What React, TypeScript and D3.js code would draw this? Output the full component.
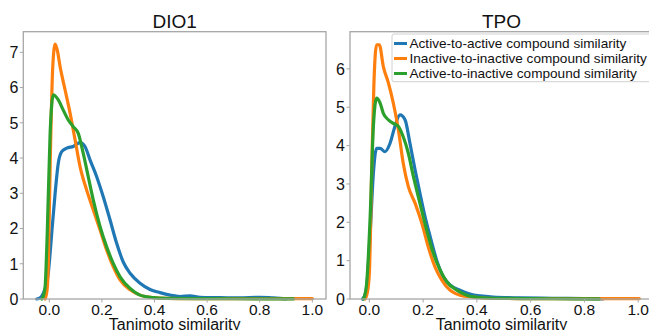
import React from 'react';
import * as d3 from 'd3';

type Pt = [number, number];

const seriesNames = [
  'Active-to-active compound similarity',
  'Inactive-to-inactive compound similarity',
  'Active-to-inactive compound similarity',
];
const seriesColors = ['#1f77b4', '#ff7f0e', '#2ca02c'];
const xTicks = [0, 0.2, 0.4, 0.6, 0.8, 1.0];
const dio1YTicks = [0, 1, 2, 3, 4, 5, 6, 7];
const tpoYTicks = [0, 1, 2, 3, 4, 5, 6];

// DIO1 density curves
const dio1Active: Pt[] = [
  [-0.048, 0], [-0.035, 0.03], [-0.023, 0.16], [-0.012, 0.4], [-0.004, 0.73], [0.003, 1.3],
  [0.009, 1.86], [0.022, 3.0], [0.034, 3.85], [0.047, 4.18], [0.066, 4.28], [0.091, 4.33],
  [0.117, 4.44], [0.136, 4.32], [0.155, 3.94], [0.18, 3.47], [0.205, 2.9], [0.231, 2.24],
  [0.256, 1.58], [0.281, 1.05], [0.307, 0.73], [0.345, 0.45], [0.383, 0.27], [0.421, 0.18],
  [0.459, 0.11], [0.497, 0.07], [0.535, 0.09], [0.573, 0.05], [0.65, 0.04], [0.72, 0.03],
  [0.8, 0.05], [0.85, 0.03], [0.9, 0.005],
];
const dio1Inactive: Pt[] = [
  [-0.016, 0], [-0.008, 0.3], [-0.004, 0.92], [0.003, 3.75], [0.013, 6.59], [0.022, 7.23],
  [0.03, 7.07], [0.041, 6.59], [0.06, 5.93], [0.079, 5.27], [0.098, 4.51], [0.117, 3.75],
  [0.142, 3.09], [0.167, 2.53], [0.193, 1.96], [0.218, 1.39], [0.243, 0.92], [0.269, 0.54],
  [0.307, 0.26], [0.345, 0.11], [0.395, 0.04], [0.446, 0.02], [0.55, 0.012], [0.7, 0.01],
  [0.85, 0.01], [1.0, 0.01],
];
const dio1Cross: Pt[] = [
  [-0.029, 0], [-0.022, 0.1], [-0.016, 0.35], [-0.008, 1.86], [0.003, 4.7], [0.015, 5.79],
  [0.034, 5.65], [0.053, 5.36], [0.072, 5.08], [0.091, 4.89], [0.11, 4.7], [0.129, 4.13],
  [0.148, 3.47], [0.167, 2.81], [0.193, 2.05], [0.218, 1.48], [0.243, 1.01], [0.269, 0.63],
  [0.307, 0.3], [0.345, 0.11], [0.395, 0.04], [0.446, 0.02], [0.6, 0.01], [0.8, 0.005],
  [0.928, 0.003],
];

// TPO density curves
const tpoActive: Pt[] = [
  [-0.025, 0], [-0.018, 0.08], [-0.01, 0.32], [0.003, 1.71], [0.015, 3.28], [0.027, 3.93],
  [0.04, 3.93], [0.058, 3.84], [0.077, 4.06], [0.095, 4.5], [0.114, 4.8], [0.133, 4.67],
  [0.151, 4.06], [0.17, 3.37], [0.188, 2.76], [0.207, 2.15], [0.226, 1.63], [0.25, 1.02],
  [0.275, 0.58], [0.3, 0.37], [0.337, 0.23], [0.374, 0.13], [0.412, 0.08], [0.46, 0.05],
  [0.56, 0.03], [0.68, 0.02], [0.8, 0.01], [0.87, 0.005],
];
const tpoInactive: Pt[] = [
  [-0.016, 0], [-0.008, 0.15], [0.0, 0.67], [0.009, 3.45], [0.017, 5.63], [0.027, 6.63],
  [0.037, 6.63], [0.052, 6.06], [0.071, 5.63], [0.089, 5.11], [0.108, 4.41], [0.126, 3.54],
  [0.145, 2.93], [0.17, 2.5], [0.195, 1.98], [0.219, 1.36], [0.244, 0.84], [0.269, 0.5],
  [0.3, 0.23], [0.337, 0.1], [0.387, 0.05], [0.43, 0.02], [0.55, 0.012], [0.7, 0.01],
  [0.85, 0.01], [1.004, 0.01],
];
const tpoCross: Pt[] = [
  [-0.022, 0], [-0.016, 0.12], [-0.01, 0.41], [0.003, 2.15], [0.015, 4.5], [0.027, 5.24],
  [0.04, 5.11], [0.052, 4.84], [0.071, 4.67], [0.089, 4.58], [0.108, 4.5], [0.126, 4.23],
  [0.145, 3.8], [0.164, 3.19], [0.188, 2.5], [0.213, 1.8], [0.238, 1.19], [0.263, 0.76],
  [0.288, 0.45], [0.325, 0.23], [0.362, 0.1], [0.41, 0.04], [0.46, 0.02], [0.6, 0.01],
  [0.75, 0.005], [0.855, 0.003],
];

const FONT = '"Liberation Sans", Arial, sans-serif';
const AXIS_COLOR = '#a6a6a6';
const TEXT_COLOR = '#111';
const TOP = 31.7;
const BOTTOM = 299;

interface PanelProps {
  title: string;
  series: Pt[][];
  yTicks: number[];
  left: number;
  right: number;
  xDomain: [number, number];
  yMax: number;
  legend?: boolean;
}

const Panel: React.FC<PanelProps> = ({ title, series, yTicks, left, right, xDomain, yMax, legend }) => {
  const x = d3.scaleLinear().domain(xDomain).range([left, right]);
  const y = d3.scaleLinear().domain([0, yMax]).range([BOTTOM, TOP]);
  const line = d3
    .line<Pt>()
    .x(d => x(d[0]))
    .y(d => y(d[1]))
    .curve(d3.curveMonotoneX);
  const cx = (left + right) / 2;

  return (
    <g>
      {series.map((s, i) => (
        <path
          key={i}
          d={line(s) || ''}
          fill="none"
          stroke={seriesColors[i]}
          strokeWidth={3.2}
          strokeLinejoin="round"
          strokeLinecap="round"
        />
      ))}
      <rect x={left} y={TOP} width={right - left} height={BOTTOM - TOP} fill="none" stroke={AXIS_COLOR} strokeWidth={1.3} />
      {yTicks.map(t => (
        <g key={'y' + t}>
          <line x1={left - 3.5} x2={left} y1={y(t)} y2={y(t)} stroke={AXIS_COLOR} strokeWidth={1} />
          <text x={left - 5} y={y(t)} dy="0.36em" textAnchor="end" fontSize={16} fill={TEXT_COLOR}>
            {t}
          </text>
        </g>
      ))}
      {xTicks.map(t => (
        <g key={'x' + t}>
          <line x1={x(t)} x2={x(t)} y1={BOTTOM} y2={BOTTOM + 3.5} stroke={AXIS_COLOR} strokeWidth={1} />
          <text x={x(t)} y={315} textAnchor="middle" fontSize={15.5} fill={TEXT_COLOR}>
            {t.toFixed(1)}
          </text>
        </g>
      ))}
      <text x={cx} y={329.5} textAnchor="middle" fontSize={16} fill={TEXT_COLOR}>
        Tanimoto similarity
      </text>
      <text x={cx} y={28} textAnchor="middle" fontSize={19} fill={TEXT_COLOR}>
        {title}
      </text>
      {legend && (
        <g>
          <rect x={392} y={34} width={270} height={47.7} rx={2} fill="white" fillOpacity={0.85} stroke="#d0d0d0" strokeWidth={1} />
          {seriesNames.map((name, i) => (
            <g key={name}>
              <line x1={394} x2={407} y1={43.5 + i * 15} y2={43.5 + i * 15} stroke={seriesColors[i]} strokeWidth={3} />
              <text x={409.5} y={43.5 + i * 15} dy="0.36em" fontSize={13.6} fill={TEXT_COLOR}>
                {name}
              </text>
            </g>
          ))}
        </g>
      )}
    </g>
  );
};

export default function App() {
  return (
    <div style={{ position: 'absolute', left: 0, top: 0 }}>
      <svg width={649} height={330} style={{ display: 'block', fontFamily: FONT }}>
        <rect width={649} height={330} fill="white" />
        <Panel
          title="DIO1"
          series={[dio1Active, dio1Inactive, dio1Cross]}
          yTicks={dio1YTicks}
          left={23.3}
          right={326}
          xDomain={[-0.099, 1.052]}
          yMax={7.585}
        />
        <Panel
          title="TPO"
          series={[tpoActive, tpoInactive, tpoCross]}
          yTicks={tpoYTicks}
          left={350}
          right={653}
          xDomain={[-0.072, 1.055]}
          yMax={6.97}
          legend
        />
      </svg>
    </div>
  );
}
